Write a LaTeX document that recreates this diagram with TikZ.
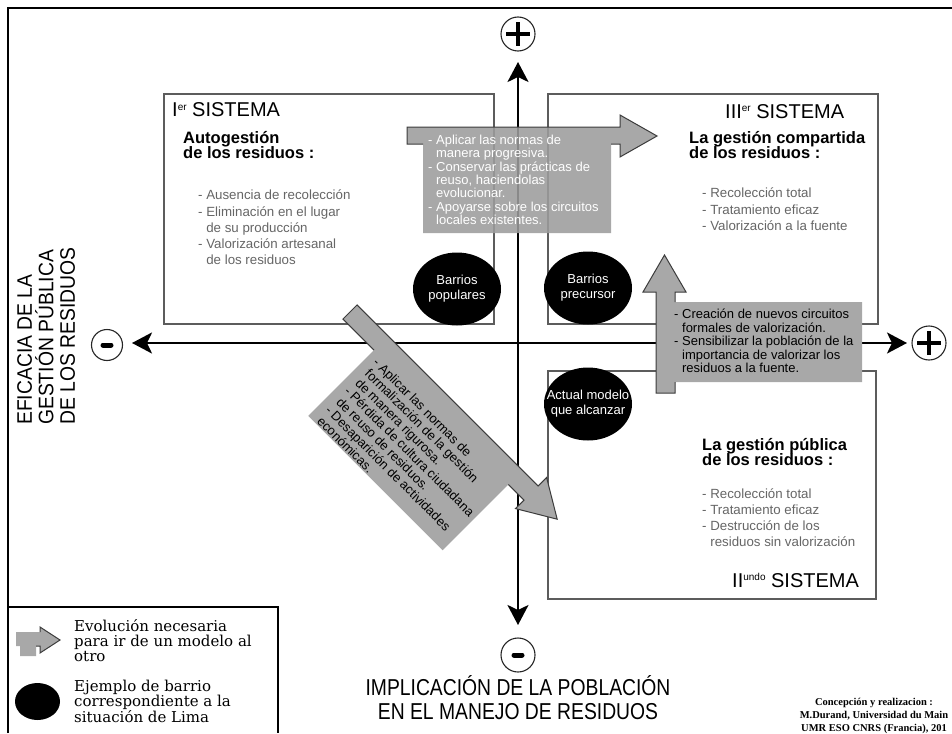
\documentclass[tikz,border=0pt]{standalone}
\usepackage{fontspec}
\setmainfont{Liberation Sans}
\newfontfamily\legfont{DejaVu Serif}
\newfontfamily\credfont{Liberation Serif}
\newfontfamily\narrowA[FakeStretch=0.84]{Liberation Sans}
\newfontfamily\narrowB[FakeStretch=0.92]{Liberation Sans}
\usetikzlibrary{arrows.meta,shapes.geometric}
\definecolor{boxline}{HTML}{5C5C5C}
\definecolor{bulletgray}{HTML}{666666}
\definecolor{fillA}{HTML}{9C9C9C}
\definecolor{fillB}{HTML}{A8A8A8}
\definecolor{edgegray}{HTML}{3C3C3C}
\newcommand\sysup[1]{\raisebox{6.5pt}{\fontsize{10}{10}\selectfont #1}}
\begin{document}
\begin{tikzpicture}[x=1pt,y=-1pt,
  quadbox/.style={draw=boxline, line width=1.8pt},
  axisline/.style={line width=2.4pt, {Stealth[length=20pt,width=21pt,inset=5pt]}-{Stealth[length=20pt,width=21pt,inset=5pt]}},
  signcirc/.style={circle, draw=black!85, line width=1.1pt, minimum size=34pt, inner sep=0pt},
  signbar/.style={line width=3.5pt},
  minusbar/.style={line width=5pt, line cap=round},
  systitle/.style={anchor=base west, inner sep=0pt, font=\fontsize{20}{20}\selectfont},
  headtxt/.style={anchor=north west, inner sep=0pt, align=left, font=\fontsize{16.5}{15.5}\selectfont\bfseries},
  itemtxt/.style={anchor=north west, inner sep=0pt, align=left, text=bulletgray, font=\fontsize{13.3}{16.2}\selectfont},
  blob/.style={ellipse, fill=black, inner sep=0pt, minimum width=88pt, minimum height=73pt},
  blobtxt/.style={inner sep=0pt, align=center, text=white, font=\fontsize{13}{15}\selectfont},
  evoedge/.style={draw=edgegray, line width=1pt, line join=miter},
  evotxt/.style={anchor=north west, inner sep=0pt, align=left, font=\fontsize{13}{13.3}\selectfont},
  legtxt/.style={anchor=north west, inner sep=0pt, align=left, font=\legfont\fontsize{15}{15.3}\selectfont},
]
\useasboundingbox (0,0) rectangle (952,733);
\fill[white] (0,0) rectangle (952,733);

% outer frame and legend frame
\draw[line width=1.5pt] (8,733) -- (8,8) -- (952,8);
\draw[line width=1.2pt] (8,607) -- (278,607) -- (278,733);

% quadrant boxes
\node[quadbox, minimum width=330pt, minimum height=230pt, anchor=north west, inner sep=0pt] (q1) at (163,93) {};
\node[quadbox, minimum width=330pt, minimum height=230pt, anchor=north west, inner sep=0pt] (q3) at (547,93) {};
\node[quadbox, minimum width=328pt, minimum height=228pt, anchor=north west, inner sep=0pt] (q2) at (547,370) {};

% axes
\coordinate (vtop) at (518,62);
\coordinate (vbot) at (518,625);
\coordinate (hleft) at (132,343);
\coordinate (hright) at (907,343);
\draw[axisline] (vbot) -- (vtop);
\draw[axisline] (hleft) -- (hright);

% sign circles
\node[signcirc] (plusT) at (518,34) {};
\draw[signbar] ([xshift=-12pt]plusT.center) -- ([xshift=12pt]plusT.center);
\draw[signbar] ([yshift=-12pt]plusT.center) -- ([yshift=12pt]plusT.center);
\node[signcirc] (plusR) at (929,343) {};
\draw[signbar] ([xshift=-12pt]plusR.center) -- ([xshift=12pt]plusR.center);
\draw[signbar] ([yshift=-12pt]plusR.center) -- ([yshift=12pt]plusR.center);
\node[signcirc, minimum size=31pt] (minusL) at (107,345) {};
\draw[minusbar] ([xshift=-4pt]minusL.center) -- ([xshift=4pt]minusL.center);
\node[signcirc, minimum size=34pt] (minusB) at (518,655) {};
\draw[minusbar] ([xshift=-4pt]minusB.center) -- ([xshift=4pt]minusB.center);

% top evolution arrow (I -> III)
\fill[fillA, fill opacity=0.88] (407,127) -- (620,127) -- (620,115) -- (657,136) -- (620,157) -- (620,144) -- (611,144) -- (611,233) -- (423,233) -- (423,144) -- (407,144) -- cycle;
\draw[evoedge] (423,144) -- (407,144) -- (407,127) -- (620,127) -- (620,115) -- (657,136) -- (620,157) -- (620,144) -- (611,144);
\node[evotxt, text=white] (toptxt) at (428,135) {- Aplicar las normas de\\\phantom{- }manera progresiva.\\- Conservar las prácticas de\\\phantom{- }reuso, haciendolas\\\phantom{- }evolucionar.\\- Apoyarse sobre los circuitos\\\phantom{- }locales existentes.};

% diagonal evolution arrow (I -> II)
\begin{scope}[shift={(350,312)}, rotate=-45]
  \fill[fillB] (0,-10) -- (256,-10) -- (256,-22) -- (293,0) -- (256,22) -- (256,10) -- (234,10) -- (234,103) -- (44,103) -- (44,10) -- (0,10) -- cycle;
  \draw[evoedge] (44,10) -- (0,10) -- (0,-10) -- (256,-10) -- (256,-22) -- (293,0) -- (256,22) -- (256,10) -- (234,10);
  \node[evotxt, transform shape, font=\fontsize{13}{13.5}\selectfont] (diagtxt) at (52,11) {- Aplicar las normas de\\\hspace*{2pt}formalización de la gestión\\\hspace*{2pt}de manera rigurosa.\\- Pérdida de cultura ciudadana\\\hspace*{2pt}de reuso de residuos.\\- Desaparición de actividades\\\hspace*{2pt}económicas.};
\end{scope}

% upward evolution arrow (II -> III)
\fill[fillB] (656,393) -- (656,292) -- (643,292) -- (664.5,255) -- (686,292) -- (675,292) -- (675,302) -- (862,302) -- (862,382) -- (675,382) -- (675,393) -- cycle;
\draw[evoedge] (675,302) -- (675,292) -- (686,292) -- (664.5,255) -- (643,292) -- (656,292) -- (656,393) -- (675,393) -- (675,382);
\node[evotxt, font=\fontsize{13}{13.5}\selectfont] (righttxt) at (674,309) {- Creación de nuevos circuitos\\\phantom{- }formales de valorización.\\- Sensibilizar la población de la\\\phantom{- }importancia de valorizar los\\\phantom{- }residuos a la fuente.};

% neighbourhood ellipses
\node[blob] (pop) at (457,289) {};
\node[blobtxt] (poptxt) at (pop) {Barrios\\populares};
\node[blob] (pre) at (588,288) {};
\node[blobtxt] (pretxt) at (pre) {Barrios\\precursor};
\node[blob] (act) at (588,404) {};
\node[blobtxt] (acttxt) at (act) {Actual modelo\\que alcanzar};

% quadrant texts
\node[systitle] (t1) at (172,117) {I\sysup{er} SISTEMA};
\node[systitle] (t3) at (725,118) {III\sysup{er} SISTEMA};
\node[systitle] (t2) at (732,587) {II\sysup{undo} SISTEMA};
\node[headtxt] (h1) at (183,131) {Autogestión\\de los residuos :};
\node[headtxt] (h3) at (689,131) {La gestión compartida\\de los residuos :};
\node[headtxt] (h2) at (702,438) {La gestión pública\\de los residuos :};
\node[itemtxt] (i1) at (198,190) {- Ausencia de recolección\\- Eliminación en el lugar\\\phantom{- }de su producción\\- Valorización artesanal\\\phantom{- }de los residuos};
\node[itemtxt] (i3) at (702,188) {- Recolección total\\- Tratamiento eficaz\\- Valorización a la fuente};
\node[itemtxt] (i2) at (702,488) {- Recolección total\\- Tratamiento eficaz\\- Destrucción de los\\\phantom{- }residuos sin valorización};

% axis labels
\node[anchor=north, inner sep=0pt, align=center, font=\narrowA\fontsize{23}{24}\selectfont] (xlabel) at (518,675) {IMPLICACIÓN DE LA POBLACIÓN\\EN EL MANEJO DE RESIDUOS};
\node[anchor=north west, rotate=90, inner sep=0pt, align=left, font=\narrowB\fontsize{21}{21.5}\selectfont] (ylabel) at (17,425) {EFICACIA DE LA\\GESTIÓN PÚBLICA\\DE LOS RESIDUOS};

% legend
\fill[fillB] (16,632) -- (40,632) -- (40,627) -- (60,640) -- (40,653) -- (40,646) -- (36,646) -- (36,656) -- (20,656) -- (20,646) -- (16,646) -- cycle;
\draw[evoedge] (36,646) -- (40,646) -- (40,653) -- (60,640) -- (40,627) -- (40,632);
\node[legtxt] (leg1) at (74,619) {Evolución necesaria\\para ir de un modelo al\\otro};
\node[ellipse, fill=black, minimum width=45pt, minimum height=37pt, inner sep=0pt] (legblob) at (37.5,701.5) {};
\node[legtxt] (leg2) at (74,680) {Ejemplo de barrio\\correspondiente a la\\situación de Lima};

% credits
\node[anchor=north, inner sep=0pt, align=center, font=\credfont\bfseries\fontsize{10.5}{13}\selectfont] (credits) at (874,698) {Concepción y realizacion :\\M.Durand, Universidad du Main\\UMR ESO CNRS (Francia), 201};
\end{tikzpicture}
\end{document}
